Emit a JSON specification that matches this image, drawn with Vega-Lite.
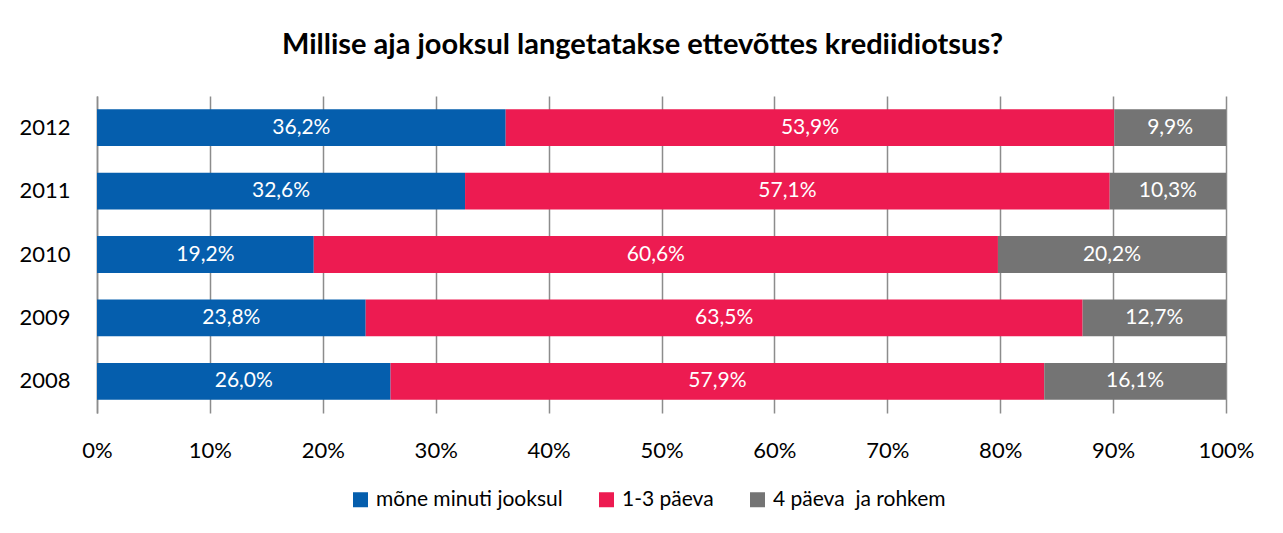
{
  "$schema": "https://vega.github.io/schema/vega-lite/v6.json",
  "autosize": {"type": "none"},
  "width": 1129,
  "height": 317,
  "padding": {"left": 97, "top": 96, "right": 57, "bottom": 120},
  "background": "white",
  "config": {
    "locale": {"number": {"decimal": ",", "thousands": " ", "grouping": [3], "currency": ["", " €"]}},
    "view": {"stroke": null},
    "font": "Lato"
  },
  "title": {
    "text": "Millise aja jooksul langetatakse ettevõttes krediidiotsus?",
    "font": "Lato",
    "fontSize": 29,
    "fontWeight": "bold",
    "color": "#000000",
    "anchor": "middle",
    "dx": -19,
    "offset": 36
  },
  "data": {
    "values": [
      {"year": "2012", "cat": "mõne minuti jooksul", "order": 1, "v": 0.362},
      {"year": "2012", "cat": "1-3 päeva", "order": 2, "v": 0.539},
      {"year": "2012", "cat": "4 päeva  ja rohkem", "order": 3, "v": 0.099},
      {"year": "2011", "cat": "mõne minuti jooksul", "order": 1, "v": 0.326},
      {"year": "2011", "cat": "1-3 päeva", "order": 2, "v": 0.571},
      {"year": "2011", "cat": "4 päeva  ja rohkem", "order": 3, "v": 0.103},
      {"year": "2010", "cat": "mõne minuti jooksul", "order": 1, "v": 0.192},
      {"year": "2010", "cat": "1-3 päeva", "order": 2, "v": 0.606},
      {"year": "2010", "cat": "4 päeva  ja rohkem", "order": 3, "v": 0.202},
      {"year": "2009", "cat": "mõne minuti jooksul", "order": 1, "v": 0.238},
      {"year": "2009", "cat": "1-3 päeva", "order": 2, "v": 0.635},
      {"year": "2009", "cat": "4 päeva  ja rohkem", "order": 3, "v": 0.127},
      {"year": "2008", "cat": "mõne minuti jooksul", "order": 1, "v": 0.260},
      {"year": "2008", "cat": "1-3 päeva", "order": 2, "v": 0.579},
      {"year": "2008", "cat": "4 päeva  ja rohkem", "order": 3, "v": 0.161}
    ]
  },
  "encoding": {
    "y": {
      "field": "year",
      "type": "nominal",
      "sort": ["2012", "2011", "2010", "2009", "2008"],
      "scale": {"paddingInner": 0.42, "paddingOuter": 0.21},
      "axis": {
        "title": null,
        "domain": true,
        "domainColor": "#8c8c8c",
        "domainWidth": 1.5,
        "ticks": false,
        "labelPadding": 27,
        "labelFont": "Lato",
        "labelFontSize": 22,
        "labelColor": "#000000"
      }
    }
  },
  "layer": [
    {
      "mark": {"type": "bar"},
      "encoding": {
        "x": {
          "field": "v",
          "type": "quantitative",
          "stack": "zero",
          "scale": {"domain": [0, 1], "nice": false},
          "axis": {
            "title": null,
            "orient": "bottom",
            "format": ".0%",
            "values": [0, 0.1, 0.2, 0.3, 0.4, 0.5, 0.6, 0.7, 0.8, 0.9, 1],
            "domain": false,
            "ticks": false,
            "grid": true,
            "gridColor": "#8c8c8c",
            "gridWidth": 1.5,
            "labelPadding": 27,
            "labelFont": "Lato",
            "labelFontSize": 22,
            "labelColor": "#000000",
            "labelFlush": false
          }
        },
        "color": {
          "field": "cat",
          "type": "nominal",
          "scale": {
            "domain": ["mõne minuti jooksul", "1-3 päeva", "4 päeva  ja rohkem"],
            "range": ["#055EAD", "#ED1B51", "#747474"]
          },
          "legend": {
            "title": null,
            "orient": "none",
            "direction": "horizontal",
            "legendX": 253,
            "legendY": 393,
            "symbolType": "square",
            "symbolSize": 225,
            "symbolStrokeWidth": 0,
            "symbolOpacity": 1,
            "labelFont": "Lato",
            "labelFontSize": 21,
            "labelLimit": 0,
            "labelColor": "#000000",
            "labelOffset": 5,
            "columnPadding": 33,
            "labelExpr": "replace(datum.label, '  ', '\u00a0 ')"
          }
        },
        "order": {"field": "order", "type": "quantitative"}
      }
    },
    {
      "mark": {"type": "text", "color": "white", "font": "Lato", "fontSize": 21, "baseline": "middle", "align": "center"},
      "encoding": {
        "x": {"field": "v", "type": "quantitative", "stack": "zero", "bandPosition": 0.5},
        "text": {"field": "v", "type": "quantitative", "format": ".1%"},
        "detail": {"field": "cat", "type": "nominal"},
        "order": {"field": "order", "type": "quantitative"}
      }
    }
  ]
}
